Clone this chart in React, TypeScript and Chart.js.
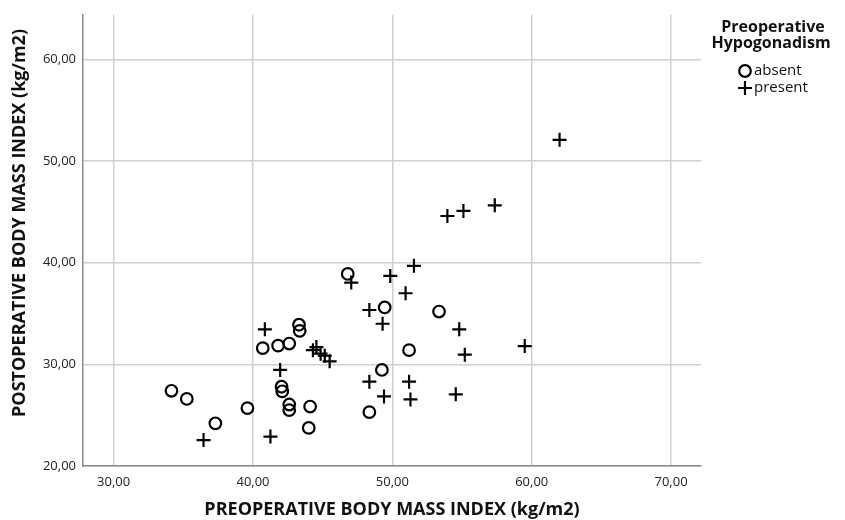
import React, { useEffect, useRef } from "react";
import { Chart, registerables } from "chart.js";

Chart.register(...registerables);

const absentX = [46.8, 49.45, 53.35, 43.3, 43.35, 40.7, 41.8, 42.6, 51.2, 49.25, 42.05, 42.1, 34.15, 35.25, 39.6, 42.6, 42.6, 44.1, 48.35, 37.3, 44.0];
const absentY = [38.9, 35.6, 35.2, 33.9, 33.3, 31.6, 31.85, 32.05, 31.4, 29.45, 27.8, 27.35, 27.4, 26.6, 25.7, 26.05, 25.5, 25.85, 25.3, 24.2, 23.75];

const presentX = [62.0, 57.35, 55.1, 53.95, 51.55, 49.85, 47.05, 50.95, 48.35, 49.3, 40.85, 54.8, 59.5, 44.3, 44.55, 44.85, 45.15, 45.5, 55.2, 41.95, 48.35, 51.2, 49.4, 51.3, 54.55, 36.45, 41.25];
const presentY = [52.1, 45.65, 45.1, 44.6, 39.7, 38.7, 38.05, 37.0, 35.35, 34.0, 33.45, 33.45, 31.8, 31.4, 31.7, 31.05, 30.85, 30.3, 30.95, 29.45, 28.3, 28.3, 26.85, 26.55, 27.05, 22.55, 22.9];

const xTicks = [30, 40, 50, 60, 70];
const yTicks = [20, 30, 40, 50, 60];

const xTitle = "PREOPERATIVE BODY MASS INDEX (kg/m2)";
const yTitle = "POSTOPERATIVE BODY MASS INDEX (kg/m2)";
const legendTitle = ["Preoperative", "Hypogonadism"];
const seriesNames = ["absent", "present"];

const fmt = (v: number) => v.toFixed(2).replace(".", ",");

export default function App() {
  const ref = useRef<HTMLCanvasElement | null>(null);
  useEffect(() => {
    document.body.style.margin = "0";
    const canvas = ref.current!;
    const overlay = {
      id: "overlay",
      afterDraw(chart: any) {
        const ctx = chart.ctx;
        const ca = chart.chartArea;
        ctx.save();
        ctx.fillStyle = "#111";
        // x title
        ctx.font = "bold 18px 'Open Sans'";
        ctx.textAlign = "center";
        ctx.textBaseline = "middle";
        ctx.fillText(xTitle, (ca.left + ca.right) / 2, 510);
        // y title
        ctx.save();
        ctx.translate(20, 223);
        ctx.rotate(-Math.PI / 2);
        ctx.font = "bold 18px 'Open Sans'";
        ctx.fillText(yTitle, 0, 0);
        ctx.restore();
        // legend
        ctx.font = "bold 16px 'Open Sans'";
        ctx.fillText(legendTitle[0], 773, 27);
        ctx.fillText(legendTitle[1], 771, 43);
        ctx.strokeStyle = "#000";
        ctx.lineWidth = 2.2;
        ctx.beginPath();
        ctx.arc(745, 71, 5.8, 0, Math.PI * 2);
        ctx.stroke();
        ctx.beginPath();
        ctx.moveTo(738, 88);
        ctx.lineTo(752, 88);
        ctx.moveTo(745, 81);
        ctx.lineTo(745, 95);
        ctx.stroke();
        ctx.font = "15px 'Open Sans'";
        ctx.textAlign = "left";
        ctx.fillText(seriesNames[0], 754, 71);
        ctx.fillText(seriesNames[1], 754, 88);
        ctx.restore();
      },
    };
    const chart = new Chart(canvas, {
      type: "scatter",
      data: {
        datasets: [
          {
            label: seriesNames[0],
            data: absentX.map((x, i) => ({ x, y: absentY[i] })),
            pointStyle: "circle",
            pointRadius: 5.8,
            borderWidth: 2.2,
            borderColor: "#000",
            backgroundColor: "rgba(0,0,0,0)",
          },
          {
            label: seriesNames[1],
            data: presentX.map((x, i) => ({ x, y: presentY[i] })),
            pointStyle: "cross",
            pointRadius: 7,
            borderWidth: 2.2,
            borderColor: "#000",
            backgroundColor: "#000",
          },
        ],
      },
      options: {
        responsive: false,
        animation: false,
        devicePixelRatio: 1,
        layout: { padding: { top: 12, right: 144, left: 0, bottom: 0 } },
        plugins: { legend: { display: false }, tooltip: { enabled: false } },
        scales: {
          x: {
            type: "linear",
            min: 27.8,
            max: 72.15,
            afterBuildTicks: (s: any) => {
              s.ticks = xTicks.map((v) => ({ value: v }));
            },
            afterFit: (s: any) => {
              s.height = 54;
            },
            grid: { color: "#cfcfcf", lineWidth: 1.5, drawTicks: false },
            border: { color: "#8a8a8a", width: 1.5 },
            ticks: {
              padding: 8,
              color: "#222",
              font: { family: "'Open Sans'", size: 13 },
              callback: (v: any) => fmt(Number(v)),
              maxRotation: 0,
            },
          },
          y: {
            type: "linear",
            min: 20,
            max: 64.4,
            afterBuildTicks: (s: any) => {
              s.ticks = yTicks.map((v) => ({ value: v }));
            },
            afterFit: (s: any) => {
              s.width = 83;
            },
            grid: { color: "#cfcfcf", lineWidth: 1.5, drawTicks: false },
            border: { color: "#8a8a8a", width: 1.5 },
            ticks: {
              padding: 7,
              color: "#222",
              font: { family: "'Open Sans'", size: 13 },
              callback: (v: any) => fmt(Number(v)),
            },
          },
        },
      },
      plugins: [overlay],
    });
    return () => chart.destroy();
  }, []);
  return (
    <div style={{ position: "absolute", left: 0, top: 0, width: 845, height: 520, background: "#fff" }}>
      <canvas ref={ref} width={845} height={520} />
    </div>
  );
}
